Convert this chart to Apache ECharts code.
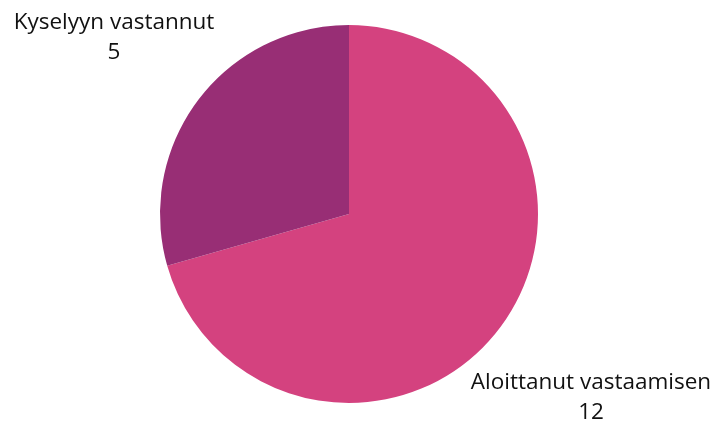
<!DOCTYPE html>
<html>
<head>
<meta charset="utf-8">
<script src="https://cdn.jsdelivr.net/npm/echarts@6/dist/echarts.min.js"></script>
<style>
    html, body { margin: 0; padding: 0; background: #fff; }
    #pie-wrap { width: 719px; height: 423px; }
</style>
</head>
<body>
<div id="pie-wrap"></div>
<script>
    // data
    var categories = ['Aloittanut vastaamisen', 'Kyselyyn vastannut'];
    var values = [12, 5];
    var colors = ['#d4427f', '#982e75'];

    // label anchor points (layout only)
    var labelPos = [
        { x: 591, y: 398 },
        { x: 114, y: 38 }
    ];

    var myChart = echarts.init(document.getElementById('pie-wrap'));
    var options = {
        animation: false,
        series: [{
            type: 'pie',
            center: [349, 214],
            radius: 189,
            startAngle: 90,
            clockwise: true,
            label: {
                show: true,
                position: 'outside',
                formatter: '{b}\n{c}',
                color: '#111',
                fontFamily: 'Open Sans',
                fontSize: 22.5,
                lineHeight: 30,
                align: 'center',
                overflow: 'none'
            },
            labelLine: { show: false },
            labelLayout: function (params) {
                var p = labelPos[params.dataIndex];
                return { x: p.x, y: p.y, align: 'center', verticalAlign: 'middle' };
            },
            emphasis: { disabled: true },
            data: categories.map(function (name, i) {
                return { name: name, value: values[i], itemStyle: { color: colors[i] } };
            })
        }]
    };
    myChart.setOption(options);
    window.addEventListener('resize', myChart.resize);
</script>
</body>
</html>
